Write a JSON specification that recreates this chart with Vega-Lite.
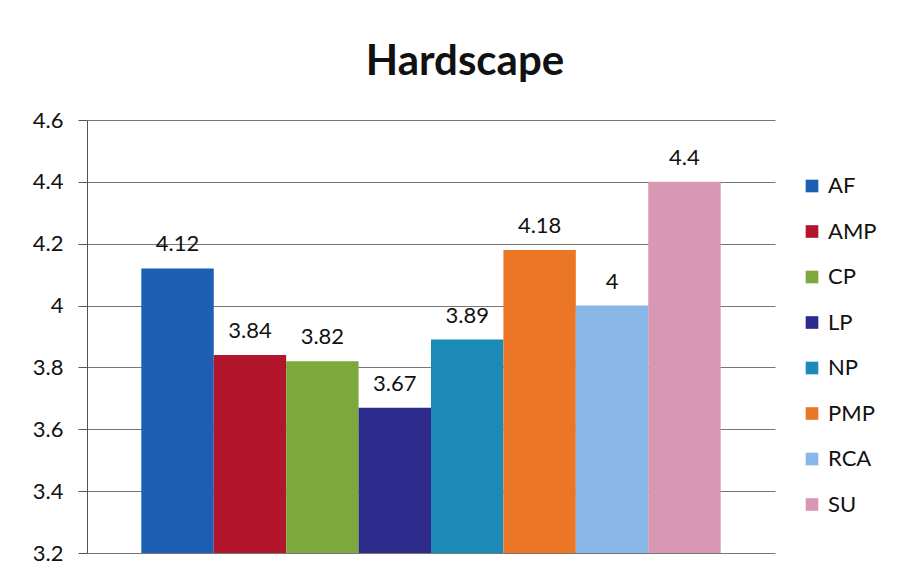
{
  "$schema": "https://vega.github.io/schema/vega-lite/v6.json",
  "width": 688,
  "height": 433,
  "autosize": {"type": "none"},
  "padding": {"left": 87, "top": 120, "right": 131, "bottom": 29},
  "background": "white",
  "title": {
    "text": "Hardscape",
    "font": "Lato",
    "fontSize": 42,
    "fontWeight": "bold",
    "color": "#111111",
    "anchor": "middle",
    "dx": 34,
    "offset": 25
  },
  "data": {
    "values": [
      {"group": "AF", "value": 4.12},
      {"group": "AMP", "value": 3.84},
      {"group": "CP", "value": 3.82},
      {"group": "LP", "value": 3.67},
      {"group": "NP", "value": 3.89},
      {"group": "PMP", "value": 4.18},
      {"group": "RCA", "value": 4.0},
      {"group": "SU", "value": 4.4}
    ]
  },
  "encoding": {
    "x": {
      "field": "group",
      "type": "nominal",
      "sort": null,
      "scale": {"paddingInner": 0, "paddingOuter": 0.75},
      "axis": null
    },
    "y": {
      "field": "value",
      "type": "quantitative",
      "scale": {"domain": [3.2, 4.6], "zero": false, "nice": false},
      "axis": {
        "title": null,
        "values": [3.2, 3.4, 3.6, 3.8, 4.0, 4.2, 4.4, 4.6],
        "format": "~g",
        "labelFont": "Lato",
        "labelFontSize": 22,
        "labelColor": "#111111",
        "labelPadding": 15,
        "tickSize": 9,
        "tickColor": "#555555",
        "domainColor": "#555555",
        "gridColor": "#777777",
        "gridWidth": 1.2
      }
    }
  },
  "layer": [
    {
      "mark": {"type": "bar", "clip": true},
      "encoding": {
        "y2": {"datum": 3.2},
        "color": {
          "field": "group",
          "type": "nominal",
          "sort": null,
          "scale": {
            "domain": ["AF", "AMP", "CP", "LP", "NP", "PMP", "RCA", "SU"],
            "range": ["#1c5fb3", "#b2162d", "#7ca83c", "#2c2b8b", "#1b8ab6", "#eb7726", "#88b7e8", "#d898b4"]
          },
          "legend": {
            "title": null,
            "orient": "none",
            "legendX": 714,
            "legendY": 55,
            "symbolType": "square",
            "symbolSize": 160,
            "symbolStrokeWidth": 0,
            "symbolOpacity": 1,
            "labelFont": "Lato",
            "labelFontSize": 22,
            "labelColor": "#111111",
            "labelOffset": 5,
            "rowPadding": 23.5
          }
        }
      }
    },
    {
      "mark": {
        "type": "text",
        "baseline": "bottom",
        "dy": -12,
        "font": "Lato",
        "fontSize": 22,
        "color": "#111111"
      },
      "encoding": {
        "text": {"field": "value", "type": "quantitative", "format": "~g"}
      }
    }
  ],
  "config": {
    "view": {"stroke": null}
  }
}
